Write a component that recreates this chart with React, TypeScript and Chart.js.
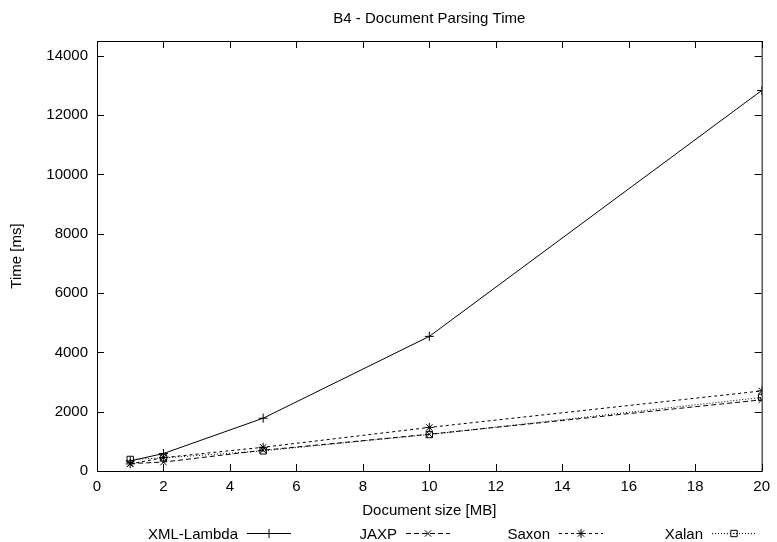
import React, { useEffect, useRef } from 'react';
import { Chart, registerables } from 'chart.js';

Chart.register(...registerables);

// ---- data ----
const sizes = [1, 2, 5, 10, 20];
const xmlLambda = [340, 590, 1780, 4540, 12830];
const jaxp = [250, 300, 700, 1240, 2400];
const saxon = [240, 450, 800, 1470, 2700];
const xalan = [390, 440, 680, 1230, 2480];
const seriesNames = ['XML-Lambda', 'JAXP', 'Saxon', 'Xalan'];
const chartTitle = 'B4 - Document Parsing Time';
const xTitle = 'Document size [MB]';
const yTitle = 'Time [ms]';
const xTicks = [0, 2, 4, 6, 8, 10, 12, 14, 16, 18, 20];
const yTicks = [0, 2000, 4000, 6000, 8000, 10000, 12000, 14000];
const xRange = [0, 20];
const yRange = [0, 14500];

const FONT = '"Liberation Sans", Arial, Helvetica, sans-serif';
const dashes: number[][] = [[], [5, 3], [3, 3], [1, 2]];
const markers = ['cross', 'crossRot', 'star', 'rect'];
const legendTextEnds = [238, 397, 550, 703];

function drawMarker(ctx: CanvasRenderingContext2D, style: string, x: number, y: number, r: number) {
  ctx.save();
  ctx.setLineDash([]);
  ctx.beginPath();
  if (style === 'cross' || style === 'star') {
    ctx.moveTo(x - r, y); ctx.lineTo(x + r, y);
    ctx.moveTo(x, y - r); ctx.lineTo(x, y + r);
  }
  if (style === 'crossRot' || style === 'star') {
    const d = r * Math.SQRT1_2;
    ctx.moveTo(x - d, y - d); ctx.lineTo(x + d, y + d);
    ctx.moveTo(x - d, y + d); ctx.lineTo(x + d, y - d);
  }
  if (style === 'rect') {
    const s = r * Math.SQRT1_2;
    ctx.rect(x - s, y - s, 2 * s, 2 * s);
    ctx.moveTo(x - 0.5, y); ctx.lineTo(x + 0.5, y);
  }
  ctx.stroke();
  ctx.restore();
}

const framePlugin = {
  id: 'gnuplotFrame',
  afterDraw(chart: any) {
    const { ctx, chartArea } = chart;
    const { left, right, top, bottom } = chartArea;
    const xs = chart.scales.x;
    const ys = chart.scales.y;
    ctx.save();
    ctx.strokeStyle = '#000';
    ctx.lineWidth = 1;
    ctx.setLineDash([]);
    ctx.strokeRect(left + 0.5, top + 0.5, right - left, bottom - top);
    ctx.beginPath();
    const tl = 7;
    xs.ticks.forEach((t: any) => {
      const px = Math.round(xs.getPixelForValue(t.value)) + 0.5;
      ctx.moveTo(px, bottom); ctx.lineTo(px, bottom - tl);
      ctx.moveTo(px, top); ctx.lineTo(px, top + tl);
    });
    ys.ticks.forEach((t: any) => {
      const py = Math.round(ys.getPixelForValue(t.value)) + 0.5;
      ctx.moveTo(left, py); ctx.lineTo(left + tl, py);
      ctx.moveTo(right, py); ctx.lineTo(right - tl, py);
    });
    ctx.stroke();

    // texts
    ctx.fillStyle = '#000';
    ctx.font = `15px ${FONT}`;
    ctx.textAlign = 'center';
    ctx.textBaseline = 'alphabetic';
    const cx = (left + right) / 2;
    ctx.fillText(chartTitle, cx, 23);
    ctx.fillText(xTitle, cx, 515);
    ctx.save();
    ctx.translate(16.5, (top + bottom) / 2);
    ctx.rotate(-Math.PI / 2);
    ctx.textBaseline = 'middle';
    ctx.fillText(yTitle, 0, 0);
    ctx.restore();

    // legend
    ctx.textAlign = 'right';
    ctx.textBaseline = 'alphabetic';
    chart.data.datasets.forEach((ds: any, i: number) => {
      const end = legendTextEnds[i];
      ctx.fillText(ds.label, end, 539);
      const x0 = end + 9;
      const x1 = x0 + 44;
      const ly = 533.5;
      ctx.save();
      ctx.strokeStyle = '#000';
      ctx.lineWidth = 1;
      ctx.setLineDash(dashes[i]);
      ctx.beginPath();
      ctx.moveTo(x0, ly); ctx.lineTo(x1, ly);
      ctx.stroke();
      ctx.restore();
      drawMarker(ctx, markers[i], (x0 + x1) / 2, ly, 4.5);
    });
    ctx.restore();
  },
};

export default function App() {
  const ref = useRef<HTMLCanvasElement | null>(null);
  useEffect(() => {
    if (!ref.current) return;
    const series = [xmlLambda, jaxp, saxon, xalan];
    const chart = new Chart(ref.current, {
      type: 'line',
      data: {
        datasets: series.map((arr, i) => ({
          label: seriesNames[i],
          data: sizes.map((x, j) => ({ x, y: arr[j] })),
          borderColor: '#000',
          backgroundColor: 'rgba(0,0,0,0)',
          borderWidth: 1,
          borderDash: dashes[i],
          pointStyle: markers[i] as any,
          pointRadius: 4.5,
          pointBorderWidth: 1,
          pointBorderColor: '#000',
          pointBackgroundColor: 'rgba(0,0,0,0)',
          tension: 0,
          fill: false,
        })),
      },
      options: {
        responsive: false,
        animation: false,
        devicePixelRatio: 1,
        layout: { padding: { top: 41, right: 13, left: 0, bottom: 0 } },
        plugins: {
          legend: { display: false },
          title: { display: false },
          tooltip: { enabled: false },
        },
        scales: {
          x: {
            type: 'linear',
            min: xRange[0],
            max: xRange[1],
            grid: { display: false, drawTicks: false },
            border: { display: false },
            afterBuildTicks: (s: any) => { s.ticks = xTicks.map((v) => ({ value: v })); },
            ticks: { padding: 7, color: '#000', font: { family: FONT, size: 15 }, maxRotation: 0, autoSkip: false, callback: (v: any) => String(v) },
            afterFit: (s: any) => { s.height = 71; },
          },
          y: {
            type: 'linear',
            min: yRange[0],
            max: yRange[1],
            grid: { display: false, drawTicks: false },
            border: { display: false },
            afterBuildTicks: (s: any) => { s.ticks = yTicks.map((v) => ({ value: v })); },
            ticks: { padding: 9, color: '#000', font: { family: FONT, size: 15 }, autoSkip: false, callback: (v: any) => String(v) },
            afterFit: (s: any) => { s.width = 97; },
          },
        },
      },
      plugins: [framePlugin],
    });
    return () => chart.destroy();
  }, []);
  return (
    <div style={{ position: 'absolute', left: 0, top: 0, width: 777, height: 542, background: '#fff' }}>
      <canvas ref={ref} width={777} height={542} style={{ display: 'block' }} />
    </div>
  );
}
